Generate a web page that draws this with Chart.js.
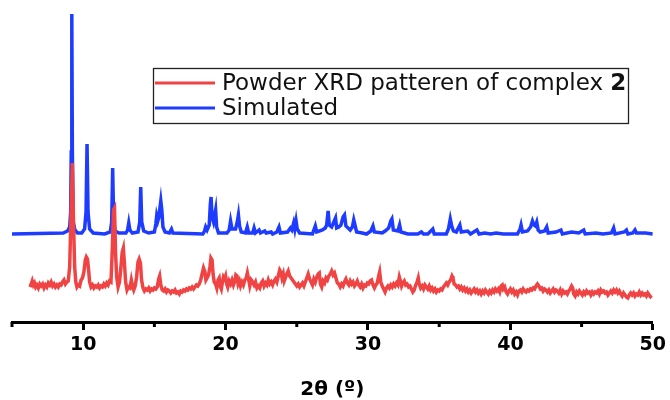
<!DOCTYPE html>
<html>
<head>
<meta charset="utf-8">
<script src="https://cdn.jsdelivr.net/npm/chart.js@4"></script>
<style>
  html, body { margin: 0; padding: 0; background: #fff; }
  #wrap { width: 670px; height: 400px; }
</style>
</head>
<body>
<div id="wrap"><canvas id="myChart" width="670" height="400"></canvas></div>
<script>
/**
 * datos: pares [2θ, intensidad] en unidades arbitrarias
 */
const etiquetaPolvo = 'Powder XRD patteren of complex '
const etiquetaNegrita = '2'
const etiquetaSimulado = 'Simulated'

const xTicks = [10, 20, 30, 40, 50]

const polvo = [
  [6.26,35],[6.35,38],[6.42,41],[6.5,37],[6.58,39],[6.66,35],[6.75,37],[6.85,34],[6.95,38],[7.05,36],
  [7.15,38],[7.25,34],[7.35,37],[7.45,35],[7.55,39],[7.65,37],[7.75,40],[7.85,36],[7.95,38],[8.05,35],
  [8.15,37],[8.25,35],[8.35,38],[8.45,37],[8.55,40],[8.65,42],[8.75,38],[8.85,40],[8.95,41],
  [9.05,55],[9.15,110],[9.24,159],[9.32,100],[9.4,55],[9.48,40],[9.56,35],[9.65,37],[9.75,36],[9.85,42],
  [9.95,44],[10.05,50],[10.15,62],[10.22,65],[10.3,63],[10.38,52],[10.45,40],[10.55,35],[10.65,37],[10.75,34],
  [10.85,36],[10.95,35],[11.05,37],[11.15,34],[11.25,36],[11.35,35],[11.45,38],[11.55,36],[11.65,39],[11.75,37],
  [11.85,41],[11.95,40],[12.05,75],[12.13,112],[12.2,114],[12.27,70],[12.35,45],[12.45,35],[12.55,40],[12.65,55],
  [12.74,70],[12.82,74],[12.9,58],[12.98,40],[13.08,32],[13.18,35],[13.28,34],[13.38,42],[13.46,36],[13.55,32],
  [13.65,36],[13.75,45],[13.85,60],[13.93,63],[14.02,59],[14.1,42],[14.2,34],[14.3,31],[14.4,33],[14.5,32],
  [14.6,34],[14.7,31],[14.8,33],[14.9,32],[15.0,34],[15.1,33],[15.2,35],[15.3,43],[15.37,46],[15.45,37],
  [15.55,32],[15.65,31],[15.75,33],[15.85,30],[15.95,32],[16.05,31],[16.15,29],[16.25,31],[16.35,30],[16.45,32],
  [16.55,29],[16.65,30],[16.75,28],[16.85,31],[16.95,30],[17.05,32],[17.15,31],[17.25,33],[17.35,32],[17.45,34],
  [17.55,33],[17.65,35],[17.75,33],[17.85,35],[17.95,37],[18.05,36],[18.15,38],[18.25,42],[18.35,48],[18.45,54],
  [18.55,50],[18.62,42],[18.7,44],[18.8,47],[18.9,55],[18.97,64],[19.05,62],[19.12,48],[19.2,40],[19.3,38],
  [19.38,34],[19.47,42],[19.55,44],[19.62,36],[19.7,33],[19.78,40],[19.85,45],[19.93,43],[20.0,46],[20.08,38],
  [20.15,35],[20.25,41],[20.35,38],[20.45,42],[20.55,37],[20.65,41],[20.72,47],[20.8,46],[20.88,38],[20.97,41],
  [21.05,36],[21.15,40],[21.25,37],[21.35,42],[21.45,44],[21.53,49],[21.6,44],[21.7,36],[21.8,42],[21.9,40],
  [22.0,37],[22.1,40],[22.2,34],[22.3,36],[22.4,34],[22.5,39],[22.6,41],[22.7,36],[22.8,39],[22.9,37],
  [23.0,42],[23.1,38],[23.2,40],[23.3,37],[23.4,41],[23.5,43],[23.6,40],[23.7,46],[23.8,52],[23.88,50],
  [23.96,44],[24.05,48],[24.12,41],[24.2,44],[24.3,48],[24.4,51],[24.5,46],[24.6,44],[24.7,42],[24.8,40],
  [24.9,38],[25.0,36],[25.1,38],[25.2,35],[25.3,37],[25.4,39],[25.5,36],[25.6,40],[25.7,44],[25.8,48],
  [25.9,43],[26.0,40],[26.1,37],[26.2,43],[26.3,40],[26.4,45],[26.5,48],[26.58,49],[26.66,38],[26.75,35],
  [26.85,41],[26.95,39],[27.05,44],[27.15,42],[27.25,46],[27.35,48],[27.45,51],[27.55,47],[27.65,49],[27.75,44],
  [27.85,39],[27.95,38],[28.05,35],[28.15,38],[28.25,36],[28.35,40],[28.45,43],[28.55,39],[28.65,37],[28.75,41],
  [28.85,38],[28.95,40],[29.05,36],[29.15,38],[29.25,41],[29.35,37],[29.45,35],[29.55,38],[29.65,34],[29.75,37],
  [29.85,36],[29.95,39],[30.05,38],[30.15,41],[30.25,42],[30.35,37],[30.45,34],[30.55,37],[30.65,39],[30.75,46],
  [30.82,50],[30.9,40],[31.0,36],[31.1,33],[31.2,30],[31.3,34],[31.4,36],[31.5,34],[31.6,37],[31.7,35],
  [31.8,38],[31.9,36],[32.0,39],[32.1,37],[32.2,45],[32.28,41],[32.36,36],[32.45,39],[32.55,41],[32.65,37],
  [32.75,38],[32.85,35],[32.95,36],[33.05,33],[33.15,30],[33.25,32],[33.35,37],[33.45,40],[33.53,44],[33.6,38],
  [33.7,34],[33.8,36],[33.9,33],[34.0,37],[34.1,35],[34.2,33],[34.3,36],[34.4,32],[34.5,34],[34.6,31],
  [34.7,33],[34.8,30],[34.9,32],[35.0,31],[35.1,33],[35.2,32],[35.3,35],[35.4,37],[35.5,39],[35.6,37],
  [35.7,40],[35.8,42],[35.9,46],[35.97,44],[36.05,38],[36.15,37],[36.25,35],[36.35,36],[36.45,33],[36.55,35],
  [36.65,32],[36.75,34],[36.85,31],[36.95,33],[37.05,30],[37.15,32],[37.25,29],[37.35,31],[37.45,33],[37.55,30],
  [37.65,32],[37.75,29],[37.85,31],[37.95,28],[38.05,31],[38.15,29],[38.25,32],[38.35,30],[38.45,28],[38.55,31],
  [38.65,29],[38.75,32],[38.85,30],[38.95,33],[39.05,31],[39.15,33],[39.25,30],[39.35,36],[39.43,37],[39.5,33],
  [39.6,35],[39.7,30],[39.8,28],[39.9,31],[40.0,33],[40.1,30],[40.2,32],[40.3,28],[40.4,30],[40.5,27],
  [40.6,31],[40.7,32],[40.8,30],[40.9,33],[41.0,31],[41.1,30],[41.2,32],[41.3,31],[41.4,33],[41.5,32],
  [41.6,34],[41.7,33],[41.8,36],[41.9,38],[42.0,36],[42.1,33],[42.2,34],[42.3,31],[42.4,33],[42.5,32],
  [42.6,30],[42.7,32],[42.8,29],[42.9,31],[43.0,33],[43.1,30],[43.2,32],[43.3,31],[43.4,29],[43.5,32],
  [43.6,28],[43.7,31],[43.8,29],[43.9,30],[44.0,28],[44.1,31],[44.2,33],[44.3,36],[44.38,34],[44.45,28],
  [44.55,26],[44.65,30],[44.75,28],[44.85,31],[44.95,29],[45.05,27],[45.15,30],[45.25,28],[45.35,31],[45.45,29],
  [45.55,30],[45.65,27],[45.75,30],[45.85,28],[45.95,30],[46.05,29],[46.15,31],[46.25,28],[46.35,32],[46.45,30],
  [46.55,31],[46.65,29],[46.75,30],[46.85,27],[46.95,29],[47.05,31],[47.15,29],[47.25,32],[47.35,30],[47.45,32],
  [47.55,29],[47.65,31],[47.75,28],[47.85,26],[47.95,29],[48.05,27],[48.15,25],[48.25,24],[48.35,27],[48.45,29],
  [48.55,27],[48.65,29],[48.75,26],[48.85,28],[48.95,27],[49.05,30],[49.15,27],[49.25,29],[49.35,27],[49.45,28],
  [49.55,26],[49.65,29],[49.75,27],[49.85,25],[49.92,24]
]

const simulado = [
  [5.0,88],[8.6,89],[8.9,91],[9.05,95],[9.12,110],[9.16,170],[9.2,308],[9.24,170],[9.3,100],[9.42,92],
  [9.6,89],[9.9,89],[10.1,93],[10.2,110],[10.27,178],[10.34,110],[10.45,93],[10.7,89],[11.5,88],[11.9,90],
  [12.0,100],[12.07,154],[12.14,100],[12.25,91],[12.5,89],[13.0,89],[13.12,92],[13.2,99],[13.28,92],[13.45,89],
  [13.85,90],[13.97,100],[14.04,135],[14.11,100],[14.25,91],[14.6,89],[15.0,90],[15.1,98],[15.16,106],[15.24,101],
  [15.3,104],[15.45,121],[15.52,112],[15.6,95],[15.75,90],[16.05,89],[16.2,93],[16.3,89],[18.4,88],[18.52,91],
  [18.6,95],[18.7,92],[18.85,97],[18.93,118],[18.98,125],[19.05,105],[19.15,100],[19.25,108],[19.3,112],[19.37,95],
  [19.5,89],[20.1,89],[20.25,92],[20.35,101],[20.45,93],[20.7,93],[20.82,100],[20.9,107],[20.98,96],[21.1,90],
  [21.4,89],[21.52,95],[21.62,89],[21.9,89],[22.0,94],[22.1,89],[22.35,92],[22.45,89],[22.75,91],[22.85,89],
  [23.2,90],[23.3,88],[23.6,90],[23.75,95],[23.85,89],[24.35,90],[24.55,94],[24.65,92],[24.78,99],[24.86,93],
  [24.95,101],[25.03,93],[25.2,89],[26.1,88],[26.3,96],[26.4,90],[26.8,92],[27.0,94],[27.1,97],[27.2,111],
  [27.28,97],[27.45,95],[27.6,100],[27.72,104],[27.8,94],[27.95,95],[28.1,97],[28.25,105],[28.35,107],[28.45,96],
  [28.6,94],[28.75,92],[28.9,95],[29.0,102],[29.1,96],[29.2,90],[29.6,89],[29.9,88],[30.2,91],[30.35,96],
  [30.45,90],[31.0,89],[31.2,91],[31.45,94],[31.6,101],[31.68,103],[31.78,92],[32.1,91],[32.22,97],[32.32,90],
  [32.8,88],[33.5,88],[33.75,90],[33.9,88],[34.2,88],[34.55,93],[34.65,88],[35.5,88],[35.65,93],[35.78,103],
  [35.88,96],[36.0,91],[36.2,90],[36.45,97],[36.55,90],[37.0,91],[37.2,88],[37.65,92],[37.8,88],[38.2,89],
  [38.6,88],[39.0,89],[39.5,88],[40.5,88],[40.68,93],[40.75,97],[40.85,90],[41.2,91],[41.42,95],[41.55,101],
  [41.65,97],[41.75,96],[41.85,100],[41.95,92],[42.1,90],[42.4,91],[42.55,95],[42.65,89],[43.2,90],[43.55,92],
  [43.65,88],[44.3,90],[44.8,89],[45.15,92],[45.25,88],[46.0,89],[46.5,88],[47.1,89],[47.25,94],[47.35,88],
  [48.0,90],[48.15,92],[48.25,88],[48.6,89],[48.75,92],[48.85,89],[49.5,89],[50.0,88]
]

function armarPuntos(pares) {
  return pares.map(p => ({ x: p[0], y: p[1] }))
}

/**
 * leyenda propia con recuadro y el "2" en negrita
 */
const leyendaConMarco = {
  id: 'leyendaConMarco',
  afterDraw(chart) {
    const ctx = chart.ctx
    const caja = { x: 153.5, y: 68.5, w: 475, h: 55 }
    ctx.save()
    ctx.strokeStyle = '#222'
    ctx.lineWidth = 1.3
    ctx.strokeRect(caja.x, caja.y, caja.w, caja.h)

    const filas = [83, 108]
    chart.data.datasets.forEach((ds, i) => {
      ctx.strokeStyle = ds.borderColor
      ctx.lineWidth = 3
      ctx.beginPath()
      ctx.moveTo(155, filas[i])
      ctx.lineTo(215, filas[i])
      ctx.stroke()

      ctx.fillStyle = '#111'
      ctx.textBaseline = 'middle'
      ctx.font = '23px "DejaVu Sans"'
      ctx.fillText(ds.label, 222, filas[i] + 1)
      if (i === 0) {
        const ancho = ctx.measureText(ds.label).width
        ctx.font = 'bold 23px "DejaVu Sans"'
        ctx.fillText(etiquetaNegrita, 222 + ancho, filas[i] + 1)
      }
    })
    ctx.restore()
  }
}

// ticks menores (5, 15, 25...) mas cortos
const ticksMenores = {
  id: 'ticksMenores',
  afterDraw(chart) {
    const escala = chart.scales.x
    const ctx = chart.ctx
    ctx.save()
    ctx.strokeStyle = '#000'
    ctx.lineWidth = 3
    for (let v = 5; v < 50; v += 10) {
      const px = escala.getPixelForValue(v)
      ctx.beginPath()
      ctx.moveTo(px, escala.top)
      ctx.lineTo(px, escala.top + 5)
      ctx.stroke()
    }
    ctx.restore()
  }
}

document.addEventListener('DOMContentLoaded', () => {
  const ctx = document.getElementById('myChart')

  new Chart(ctx, {
    type: 'line',
    data: {
      datasets: [{
        label: etiquetaPolvo,
        data: armarPuntos(polvo),
        borderColor: 'rgb(240, 68, 68)',
        borderWidth: 3.5,
        pointRadius: 0,
        tension: 0
      }, {
        label: etiquetaSimulado,
        data: armarPuntos(simulado),
        borderColor: 'rgb(30, 60, 255)',
        borderWidth: 3.5,
        pointRadius: 0,
        tension: 0
      }]
    },
    options: {
      responsive: false,
      animation: false,
      layout: { padding: { left: 12, right: 17, top: 4, bottom: 0 } },
      plugins: {
        legend: { display: false },
        tooltip: { enabled: false }
      },
      scales: {
        x: {
          type: 'linear',
          min: 5,
          max: 50,
          border: { display: true, width: 3, color: '#000' },
          grid: {
            drawOnChartArea: false,
            drawTicks: true,
            tickLength: 8,
            tickWidth: 3,
            tickColor: c => (c.tick && c.tick.value % 10 === 0) ? '#000' : 'rgba(0,0,0,0)'
          },
          ticks: {
            stepSize: 5,
            autoSkip: false,
            maxRotation: 0,
            padding: 4,
            color: '#000',
            font: { family: 'DejaVu Sans', size: 19, weight: 'bold' },
            callback: v => xTicks.includes(v) ? v : ''
          },
          title: {
            display: true,
            text: '2θ (º)',
            color: '#000',
            font: { family: 'DejaVu Sans', size: 20, weight: 'bold', lineHeight: 1 },
            padding: { top: 0, bottom: 0 }
          },
          afterFit: escala => { escala.height = 78 }
        },
        y: {
          display: false,
          min: 0,
          max: 318
        }
      }
    },
    plugins: [leyendaConMarco, ticksMenores]
  })
})
</script>
</body>
</html>
